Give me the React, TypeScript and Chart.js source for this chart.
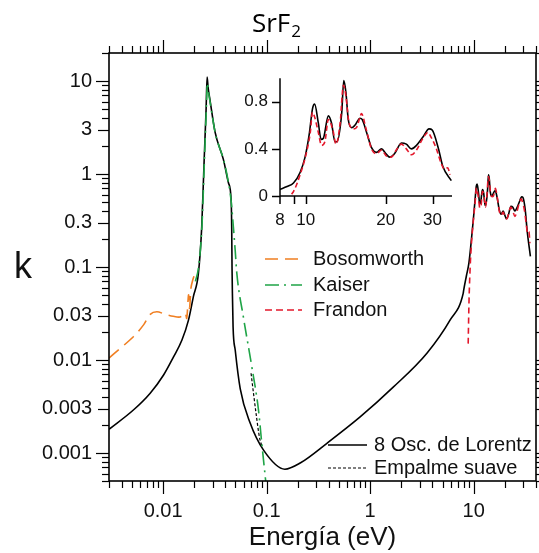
import { useEffect, useRef } from 'react';
import { Chart, registerables } from 'chart.js';

Chart.register(...registerables);

const FONT = '"Liberation Sans", Arial, sans-serif';

// ---------- data (energy in eV, k) ----------
const lorentzLowE = [0.003, 0.00516, 0.0075, 0.0101, 0.0126, 0.0152, 0.0176, 0.0196, 0.0219, 0.0236, 0.0249, 0.026, 0.0266, 0.0272, 0.0284, 0.0318, 0.0383, 0.0428, 0.0454, 0.046, 0.0463, 0.0467, 0.0474, 0.0497, 0.0556, 0.0693, 0.093, 0.15, 0.211, 0.385, 0.8, 1.67, 3.55, 5.93, 7.92];
const lorentzLowK = [0.0018, 0.0029, 0.0044, 0.0069, 0.0108, 0.0164, 0.027, 0.048, 0.085, 0.27, 1.4, 4.9, 11, 8.5, 6.2, 2.8, 1.42, 0.8, 0.52, 0.25, 0.1, 0.052, 0.0226, 0.0128, 0.0049, 0.0021, 0.00108, 0.00067, 0.00078, 0.00128, 0.00244, 0.0051, 0.0119, 0.027, 0.052];

const lorentzHighE = [8.0, 8.5, 8.99, 9.52, 9.94, 10.3, 10.6, 10.8, 11.15, 11.42, 11.65, 12.16, 12.5, 12.88, 13.1, 13.65, 13.9, 14.16, 14.45, 14.88, 15.3, 16.0, 16.3, 16.94, 17.68, 18.45, 19.28, 20.0, 20.7, 21.6, 22.9, 23.9, 25.0, 26.1, 27.6, 29.1, 29.9, 31.5, 32.8, 35.3];
const lorentzHighK = [0.056, 0.08, 0.11, 0.2, 0.33, 0.52, 0.74, 0.78, 0.62, 0.48, 0.49, 0.68, 0.62, 0.46, 0.46, 0.7, 0.98, 0.88, 0.65, 0.58, 0.6, 0.66, 0.65, 0.54, 0.41, 0.37, 0.4, 0.36, 0.33, 0.36, 0.45, 0.44, 0.4, 0.43, 0.5, 0.57, 0.56, 0.41, 0.25, 0.13];

const frandonE = [8.85, 9.0, 9.25, 9.52, 9.94, 10.4, 10.6, 10.8, 11.15, 11.46, 11.8, 12.16, 12.65, 13.0, 13.47, 13.86, 14.16, 14.55, 15.1, 15.5, 16.0, 16.2, 16.86, 17.68, 18.45, 19.28, 20.1, 21.0, 21.9, 22.9, 23.9, 25.0, 26.1, 27.6, 28.8, 29.6, 30.9, 32.3, 33.2, 34.2, 34.9];
const frandonK = [0.015, 0.04, 0.1, 0.18, 0.32, 0.54, 0.71, 0.67, 0.54, 0.43, 0.46, 0.65, 0.56, 0.44, 0.62, 0.94, 0.85, 0.62, 0.57, 0.58, 0.67, 0.7, 0.57, 0.4, 0.36, 0.39, 0.34, 0.33, 0.39, 0.44, 0.4, 0.35, 0.39, 0.49, 0.54, 0.5, 0.41, 0.28, 0.23, 0.24, 0.18];

const bosomworthE = [0.003, 0.00516, 0.0065, 0.0075, 0.0087, 0.0105, 0.0125, 0.0146, 0.0163, 0.0169, 0.0176, 0.018, 0.0186, 0.0193, 0.0199];
const bosomworthK = [0.0105, 0.0178, 0.024, 0.031, 0.033, 0.031, 0.0295, 0.029, 0.032, 0.028, 0.05, 0.036, 0.06, 0.072, 0.08];

const kaiserE = [0.0205, 0.022, 0.0237, 0.025, 0.026, 0.0268, 0.0275, 0.0285, 0.032, 0.0385, 0.043, 0.0455, 0.0477, 0.0497, 0.0515, 0.0596, 0.072, 0.0834, 0.0897, 0.1];
const kaiserK = [0.07, 0.1, 0.27, 1.3, 4.2, 9.5, 7.5, 5.8, 2.7, 1.4, 0.78, 0.5, 0.27, 0.15, 0.086, 0.029, 0.0084, 0.0029, 0.00128, 0.0004];

const empalmeE = [0.0707, 0.075, 0.08, 0.0851, 0.09];
const empalmeK = [0.0072, 0.0042, 0.0024, 0.00149, 0.00118];

// ---------- tick labels ----------
const xTickValues = [0.01, 0.1, 1, 10];
const xTickLabels = ['0.01', '0.1', '1', '10'];
const yTickValues = [0.001, 0.003, 0.01, 0.03, 0.1, 0.3, 1, 3, 10];
const yTickLabels = ['0.001', '0.003', '0.01', '0.03', '0.1', '0.3', '1', '3', '10'];
const insetXTickValues = [8, 10, 20, 30];
const insetXTickLabels = ['8', '10', '20', '30'];
const insetXMinor = [9];
const insetYTickValues = [0, 0.4, 0.8];
const insetYTickLabels = ['0', '0.4', '0.8'];

const X_MIN = 0.003, X_MAX = 40, Y_MIN = 0.0005, Y_MAX = 20;

const COLORS = { bos: '#f07f22', kai: '#1fa447', fra: '#e3172b', blk: '#000000' };

const pts = (xs: number[], ys: number[]) => xs.map((x, i) => ({ x, y: ys[i] }));

function logTicks(min: number, max: number) {
  const out: { v: number; m: number }[] = [];
  for (let e = Math.floor(Math.log10(min)); e <= Math.ceil(Math.log10(max)); e++) {
    for (let m = 1; m <= 9; m++) {
      const v = parseFloat((m * Math.pow(10, e)).toPrecision(4));
      if (v >= min * 0.9999 && v <= max * 1.0001) out.push({ v, m });
    }
  }
  return out;
}

function seg(c: CanvasRenderingContext2D, x1: number, y1: number, x2: number, y2: number) {
  c.beginPath();
  c.moveTo(x1, y1);
  c.lineTo(x2, y2);
  c.stroke();
}

const legendTop = [
  { label: 'Bosomworth', color: COLORS.bos, dash: [13, 7], y: 259 },
  { label: 'Kaiser', color: COLORS.kai, dash: [14, 5, 2, 5], y: 285 },
  { label: 'Frandon', color: COLORS.fra, dash: [7, 4], y: 310 },
];
const legendBottom = [
  { label: '8 Osc. de Lorentz', color: COLORS.blk, dash: [] as number[], y: 445 },
  { label: 'Empalme suave', color: COLORS.blk, dash: [3, 2], y: 468 },
];

const mainPlugin = {
  id: 'mainDecor',
  afterDraw(chart: any) {
    const c: CanvasRenderingContext2D = chart.ctx;
    const a = chart.chartArea;
    const sx = chart.scales.x;
    const sy = chart.scales.y;
    c.save();
    c.strokeStyle = '#000';
    c.lineWidth = 1.2;
    for (const t of logTicks(X_MIN, X_MAX)) {
      const px = Math.round(sx.getPixelForValue(t.v)) + 0.5;
      const len = t.m === 1 ? 13 : 7;
      seg(c, px, a.bottom, px, a.bottom + len);
      seg(c, px, a.top, px, a.top - len);
    }
    for (const t of logTicks(Y_MIN, Y_MAX)) {
      const py = Math.round(sy.getPixelForValue(t.v)) + 0.5;
      const len = t.m === 1 ? 13 : t.m === 3 ? 11 : 7;
      seg(c, a.left, py, a.left - len, py);
      seg(c, a.right, py, a.right + len, py);
    }
    c.lineWidth = 1.6;
    c.strokeRect(a.left, a.top, a.right - a.left, a.bottom - a.top);

    // legends
    c.font = `20px ${FONT}`;
    c.fillStyle = '#111';
    c.textBaseline = 'middle';
    c.textAlign = 'left';
    c.lineWidth = 1.6;
    for (const l of legendTop) {
      c.strokeStyle = l.color;
      c.setLineDash(l.dash);
      seg(c, 265, l.y, 302, l.y);
      c.setLineDash([]);
      c.fillText(l.label, 313, l.y);
    }
    for (const l of legendBottom) {
      c.strokeStyle = l.color;
      c.lineWidth = l.dash.length ? 1.2 : 1.6;
      c.setLineDash(l.dash);
      seg(c, 328, l.y, 367, l.y);
      c.setLineDash([]);
      c.fillText(l.label, 374, l.y);
    }

    // title SrF2
    c.fillStyle = '#000';
    c.textBaseline = 'alphabetic';
    c.font = '26px "Open Sans", "Noto Sans", sans-serif';
    const w1 = c.measureText('SrF').width;
    c.font = '17px "Open Sans", "Noto Sans", sans-serif';
    const w2 = c.measureText('2').width;
    const x0 = 276 - (w1 + w2) / 2;
    c.font = '26px "Open Sans", "Noto Sans", sans-serif';
    c.fillText('SrF', x0, 32);
    c.font = '17px "Open Sans", "Noto Sans", sans-serif';
    c.fillText('2', x0 + w1 + 1, 37);

    // y label k
    c.font = `36px ${FONT}`;
    c.textAlign = 'center';
    c.fillStyle = '#111';
    c.fillText('k', 23, 278);
    c.restore();
  },
};

const insetPlugin = {
  id: 'insetDecor',
  afterDraw(chart: any) {
    const c: CanvasRenderingContext2D = chart.ctx;
    const a = chart.chartArea;
    const sx = chart.scales.x;
    const sy = chart.scales.y;
    c.save();
    c.strokeStyle = '#000';
    c.lineWidth = 1.5;
    seg(c, a.left, a.top, a.left, a.bottom + 8);
    seg(c, a.left, a.bottom, a.right, a.bottom);
    for (const v of [...insetXTickValues.slice(1), ...insetXMinor]) {
      const px = Math.round(sx.getPixelForValue(v)) + 0.5;
      seg(c, px, a.bottom, px, a.bottom + 8);
    }
    for (const v of insetYTickValues) {
      const py = Math.round(sy.getPixelForValue(v)) + 0.5;
      seg(c, a.left - 8, py, a.left, py);
    }
    c.restore();
  },
};

export default function App() {
  const mainRef = useRef<HTMLCanvasElement>(null);
  const insetRef = useRef<HTMLCanvasElement>(null);

  useEffect(() => {
    const tickFont = { family: FONT, size: 20 };
    const main = new Chart(mainRef.current as HTMLCanvasElement, {
      type: 'line',
      data: {
        datasets: [
          {
            label: 'Kaiser',
            data: pts(kaiserE, kaiserK),
            borderColor: COLORS.kai,
            borderWidth: 1.6,
            borderDash: [14, 5, 2, 5],
            pointRadius: 0,
            cubicInterpolationMode: 'monotone',
          },
          {
            label: 'Bosomworth',
            data: pts(bosomworthE, bosomworthK),
            borderColor: COLORS.bos,
            borderWidth: 1.6,
            borderDash: [13, 7],
            pointRadius: 0,
            tension: 0.3,
          },
          {
            label: 'Frandon',
            data: pts(frandonE, frandonK),
            borderColor: COLORS.fra,
            borderWidth: 1.6,
            borderDash: [6, 4],
            pointRadius: 0,
            cubicInterpolationMode: 'monotone',
          },
          {
            label: 'Empalme suave',
            data: pts(empalmeE, empalmeK),
            borderColor: COLORS.blk,
            borderWidth: 1.2,
            borderDash: [3, 2],
            pointRadius: 0,
            cubicInterpolationMode: 'monotone',
          },
          {
            label: '8 Osc. de Lorentz',
            data: [...pts(lorentzLowE, lorentzLowK), ...pts(lorentzHighE, lorentzHighK)],
            borderColor: COLORS.blk,
            borderWidth: 1.6,
            pointRadius: 0,
            cubicInterpolationMode: 'monotone',
          },
        ],
      },
      options: {
        animation: false,
        responsive: false,
        devicePixelRatio: 1,
        layout: { padding: { top: 53, right: 3, left: 0, bottom: 0 } },
        plugins: { legend: { display: false }, tooltip: { enabled: false }, title: { display: false } },
        scales: {
          x: {
            type: 'logarithmic',
            min: X_MIN,
            max: X_MAX,
            bounds: 'data',
            grid: { display: false, drawTicks: false },
            border: { display: false },
            afterBuildTicks: (s: any) => {
              s.ticks = xTickValues.map((v) => ({ value: v }));
            },
            afterFit: (s: any) => {
              s.height = 72;
            },
            ticks: {
              autoSkip: false,
              maxRotation: 0,
              padding: 18,
              font: tickFont,
              color: '#111',
              callback: (_v: any, i: number) => xTickLabels[i],
            },
            title: {
              display: true,
              text: 'Energía (eV)',
              font: { family: FONT, size: 26 },
              color: '#111',
              padding: { top: 0, bottom: 0 },
            },
          },
          y: {
            type: 'logarithmic',
            min: Y_MIN,
            max: Y_MAX,
            bounds: 'data',
            grid: { display: false, drawTicks: false },
            border: { display: false },
            afterBuildTicks: (s: any) => {
              s.ticks = yTickValues.map((v) => ({ value: v }));
            },
            afterFit: (s: any) => {
              s.width = 109;
            },
            ticks: {
              autoSkip: false,
              padding: 17,
              font: tickFont,
              color: '#111',
              callback: (_v: any, i: number) => yTickLabels[i],
            },
          },
        },
      } as any,
      plugins: [mainPlugin],
    });

    const insetFont = { family: FONT, size: 17 };
    const inset = new Chart(insetRef.current as HTMLCanvasElement, {
      type: 'line',
      data: {
        datasets: [
          {
            label: 'Frandon',
            data: pts(frandonE, frandonK),
            borderColor: COLORS.fra,
            borderWidth: 1.6,
            borderDash: [5, 3],
            pointRadius: 0,
            cubicInterpolationMode: 'monotone',
          },
          {
            label: '8 Osc. de Lorentz',
            data: pts(lorentzHighE, lorentzHighK),
            borderColor: COLORS.blk,
            borderWidth: 1.6,
            pointRadius: 0,
            cubicInterpolationMode: 'monotone',
          },
        ],
      },
      options: {
        animation: false,
        responsive: false,
        devicePixelRatio: 1,
        layout: { padding: { top: 12, right: 18, left: 0, bottom: 0 } },
        plugins: { legend: { display: false }, tooltip: { enabled: false } },
        scales: {
          x: {
            type: 'logarithmic',
            min: 8,
            max: 35.5,
            bounds: 'data',
            grid: { display: false, drawTicks: false },
            border: { display: false },
            afterBuildTicks: (s: any) => {
              s.ticks = insetXTickValues.map((v) => ({ value: v }));
            },
            afterFit: (s: any) => {
              s.height = 40;
            },
            ticks: {
              autoSkip: false,
              maxRotation: 0,
              padding: 14,
              font: insetFont,
              color: '#111',
              callback: (_v: any, i: number) => insetXTickLabels[i],
            },
          },
          y: {
            type: 'linear',
            min: 0,
            max: 1,
            grid: { display: false, drawTicks: false },
            border: { display: false },
            afterBuildTicks: (s: any) => {
              s.ticks = insetYTickValues.map((v) => ({ value: v }));
            },
            afterFit: (s: any) => {
              s.width = 50;
            },
            ticks: {
              autoSkip: false,
              padding: 12,
              font: insetFont,
              color: '#111',
              callback: (_v: any, i: number) => insetYTickLabels[i],
            },
          },
        },
      } as any,
      plugins: [insetPlugin],
    });

    return () => {
      main.destroy();
      inset.destroy();
    };
  }, []);

  return (
    <div style={{ position: 'fixed', left: 0, top: 0, width: 539, height: 553, background: '#fff', overflow: 'hidden' }}>
      <canvas ref={mainRef} width={539} height={553} style={{ position: 'absolute', left: 0, top: 0 }} />
      <canvas ref={insetRef} width={240} height={180} style={{ position: 'absolute', left: 230, top: 56 }} />
    </div>
  );
}
